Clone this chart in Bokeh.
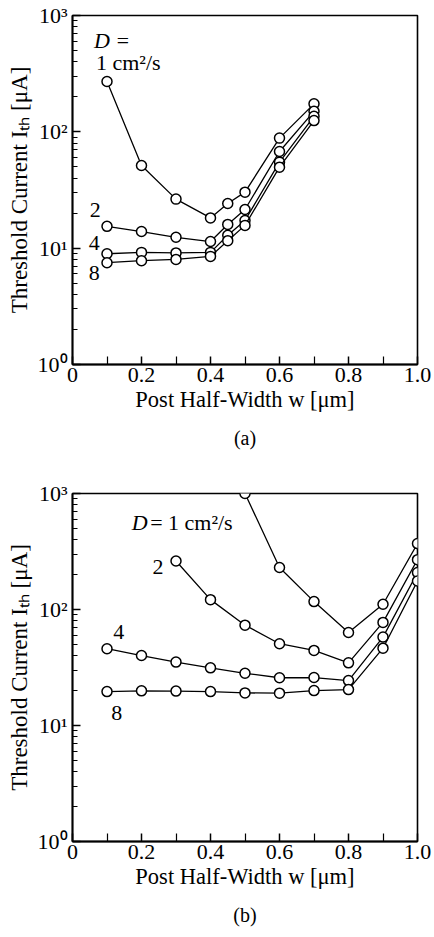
from bokeh.plotting import figure
from bokeh.layouts import column
from bokeh.models import FixedTicker, CustomJSTickFormatter, Title, ColumnDataSource
from bokeh.core.properties import value
from bokeh.embed import file_html
from bokeh.resources import INLINE

FONT = "Liberation Serif"

# ---------------- data: panel (a) ----------------
a_x = [0.1, 0.2, 0.3, 0.4, 0.45, 0.5, 0.6, 0.7]
a_D1 = [271, 51.4, 26.4, 18.2, 24.2, 30.3, 88.3, 174]
a_D2 = [15.4, 13.9, 12.4, 11.4, 16.0, 21.5, 67.8, 150]
a_D4 = [8.95, 9.2, 9.1, 9.2, 12.9, 17.3, 54.9, 136]
a_D8 = [7.5, 7.8, 8.0, 8.5, 11.6, 15.7, 49.7, 125]

# ---------------- data: panel (b) ----------------
b_x1 = [0.5, 0.6, 0.7, 0.8, 0.9, 1.0]
b_D1 = [1000, 230, 117, 63.4, 111, 370]
b_x2 = [0.3, 0.4, 0.5, 0.6, 0.7, 0.8, 0.9, 1.0]
b_D2 = [262, 121.6, 73.3, 50.7, 44.4, 34.7, 77.4, 269]
b_x4 = [0.1, 0.2, 0.3, 0.4, 0.5, 0.6, 0.7, 0.8, 0.9, 1.0]
b_D4 = [45.9, 40.1, 35.2, 31.4, 28.2, 25.8, 25.9, 24.4, 57.8, 208]
b_D8 = [19.6, 19.9, 19.8, 19.6, 19.1, 19.0, 20.0, 20.4, 46.4, 176]

# ticks and labels
x_major = [0.0, 0.2, 0.4, 0.6, 0.8, 1.0]
x_minor = [0.1, 0.3, 0.5, 0.7, 0.9]
x_labels = ["0", "0.2", "0.4", "0.6", "0.8", "1.0"]
y_major = [1, 10, 100, 1000]
y_minor = [m * d for d in (1, 10, 100) for m in range(2, 10)]
y_labels = ["10\u2070", "10\u00b9", "10\u00b2", "10\u00b3"]

x_title = "Post Half-Width w [\u03bcm]"
y_title = "Threshold Current I\u209c\u2095 [\u03bcA]"

# curve annotations (text, x, y)
a_notes = [("1 cm\u00b2/s", 0.068, 395), ("2", 0.05, 21.1), ("4", 0.047, 11.0), ("8", 0.047, 6.1)]
a_D_note = ("D =", 0.062, 611)
b_notes = [("= 1 cm\u00b2/s", 0.225, 565), ("2", 0.232, 231), ("4", 0.118, 63.4), ("8", 0.112, 12.7)]
b_D_note = ("D", 0.172, 565)


def make_fig(width, height, mb_left, mb_top, mb_bottom, panel):
    p = figure(width=width, height=height, x_range=(0, 1), y_range=(1, 1000),
               y_axis_type="log", output_backend="svg", toolbar_location=None,
               min_border_left=mb_left, min_border_right=width - mb_left - 346,
               min_border_top=mb_top, min_border_bottom=mb_bottom)
    p.grid.visible = False
    p.outline_line_color = "black"
    p.outline_line_width = 1.6
    p.background_fill_color = "white"
    p.border_fill_color = "white"

    xa = p.xaxis[0]
    xa.ticker = FixedTicker(ticks=x_major, minor_ticks=x_minor)
    xa.formatter = CustomJSTickFormatter(
        args=dict(vals=x_major, labs=x_labels),
        code="for (let i=0;i<vals.length;i++){ if (Math.abs(vals[i]-tick)<1e-6) return labs[i]; } return '';")
    ya = p.yaxis[0]
    ya.ticker = FixedTicker(ticks=y_major, minor_ticks=y_minor)
    ya.formatter = CustomJSTickFormatter(
        args=dict(vals=y_major, labs=y_labels),
        code="for (let i=0;i<vals.length;i++){ if (Math.abs(vals[i]-tick)<1e-6*vals[i]) return labs[i]; } return '';")

    for ax in (xa, ya):
        ax.axis_line_width = 1.8
        ax.axis_line_color = "black"
        ax.major_tick_in = 8
        ax.major_tick_out = 0
        ax.major_tick_line_width = 1.5
        ax.minor_tick_line_width = 1.2
        ax.major_label_text_font = FONT
        ax.major_label_text_font_size = "22px"
        ax.major_label_text_color = "black"
        ax.axis_label_text_font = FONT
        ax.axis_label_text_font_style = "normal"
        ax.axis_label_text_color = "black"
    xa.axis_label_text_font_size = "22.5px"
    ya.axis_label_text_font_size = "23px"
    xa.minor_tick_in = 8
    xa.minor_tick_out = 0
    ya.minor_tick_in = 5
    ya.minor_tick_out = 0
    xa.major_label_standoff = 3
    ya.major_label_standoff = 5
    xa.axis_label = x_title
    ya.axis_label = y_title
    xa.axis_label_standoff = 2
    ya.axis_label_standoff = 3

    t = Title(text=panel, align="center", text_font=FONT, text_font_size="20px",
              text_font_style="normal", text_color="black", standoff=20)
    p.add_layout(t, "below")
    return p


def add_series(p, xs, ys):
    src = ColumnDataSource(dict(x=xs, y=ys))
    p.line("x", "y", source=src, line_color="black", line_width=1.3)
    p.scatter("x", "y", source=src, size=10, marker="circle", fill_color="white",
              line_color="black", line_width=1.5)


def add_notes(p, notes, dnote):
    src = ColumnDataSource(dict(t=[n[0] for n in notes], x=[n[1] for n in notes], y=[n[2] for n in notes]))
    p.text("x", "y", text="t", source=src, text_font=value(FONT), text_font_size="22px",
           text_align="left", text_baseline="middle", text_color="black")
    p.text([dnote[1]], [dnote[2]], text=[dnote[0]], text_font=value(FONT), text_font_size="22px",
           text_font_style="italic", text_align="left", text_baseline="middle", text_color="black")


pa = make_fig(434, 465, 72, 15, 101, "(a)")
for ys in (a_D1, a_D2, a_D4, a_D8):
    add_series(pa, a_x, ys)
add_notes(pa, a_notes, a_D_note)

pb = make_fig(434, 471, 71, 28, 95, "(b)")
add_series(pb, b_x1, b_D1)
add_series(pb, b_x2, b_D2)
add_series(pb, b_x4, b_D4)
add_series(pb, b_x4, b_D8)
add_notes(pb, b_notes, b_D_note)

layout = column(pa, pb, spacing=0)
open("out.html", "w").write(file_html(layout, INLINE))
